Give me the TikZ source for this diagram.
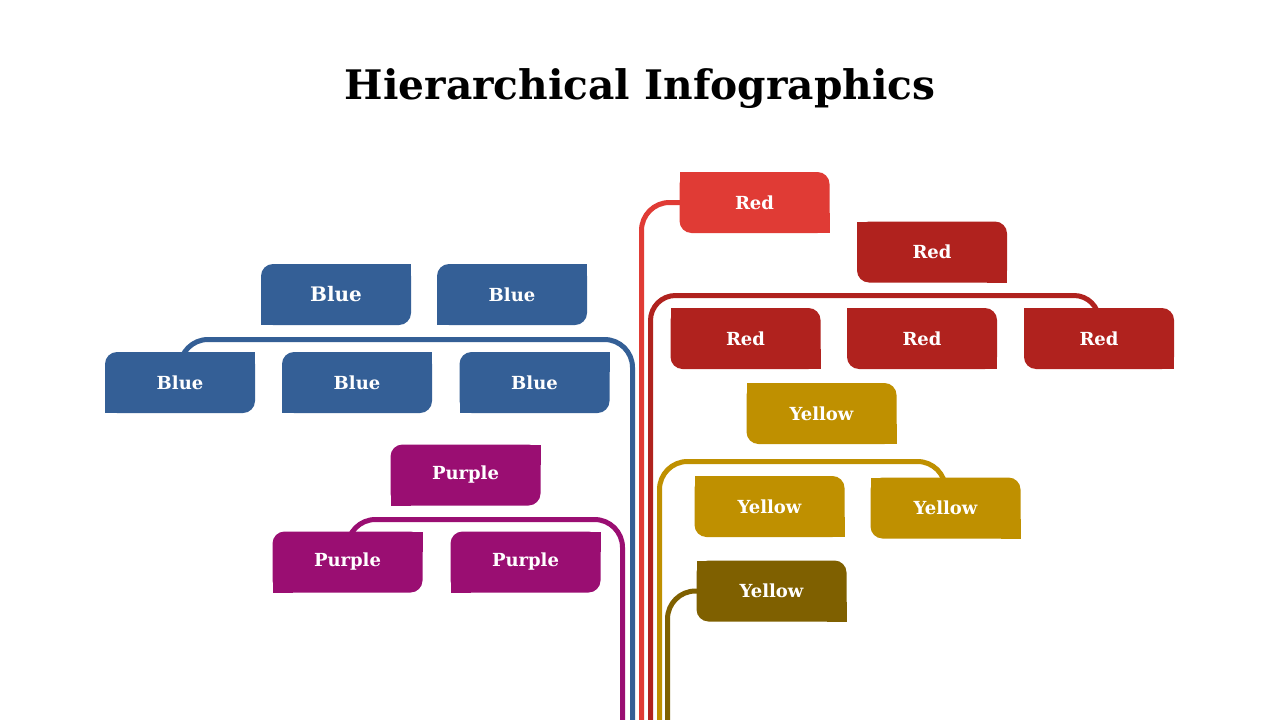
\documentclass[tikz,border=0pt]{standalone}
\usepackage{fontspec}
\setmainfont{DejaVu Serif}
\usetikzlibrary{backgrounds}
\definecolor{blueC}{RGB}{52,95,150}
\definecolor{redL}{RGB}{224,59,53}
\definecolor{redD}{RGB}{176,34,30}
\definecolor{purp}{RGB}{154,14,114}
\definecolor{yel}{RGB}{191,144,0}
\definecolor{yelD}{RGB}{127,96,0}
\tikzset{
  box/.style={rectangle, minimum width=150pt, minimum height=61pt, inner sep=0pt,
    outer sep=0pt, rounded corners=12pt, fill=#1,
    text=white, font=\bfseries\fontsize{18}{20}\selectfont},
  ln/.style={draw=#1, line width=5pt, rounded corners=28pt},
  title/.style={font=\bfseries\fontsize{40.7}{44}\selectfont, text=black}
}
\begin{document}
\begin{tikzpicture}[x=1pt,y=-1pt]
\useasboundingbox (0,0) rectangle (1280,720);
\node[title] (t) at (640,89) {Hierarchical Infographics};

% junction and end coordinates
\coordinate (bend) at (632.5,720);
\coordinate (bj) at (632.5,339.5);
\coordinate (pend) at (622.5,720);
\coordinate (pj) at (622.5,519.5);
\coordinate (rlend) at (641.5,720);
\coordinate (rlj) at (641.5,202.5);
\coordinate (rdend) at (650.5,720);
\coordinate (rdj) at (650.5,295.5);
\coordinate (yend) at (659.5,720);
\coordinate (yj) at (659.5,461.5);
\coordinate (ydend) at (667.5,720);
\coordinate (ydj) at (667.5,591);

% boxes
\node[box=blueC, font=\bfseries\fontsize{20}{22}\selectfont] (b1) at (336,294.5) {Blue};
\node[box=blueC] (b2) at (512,294.5) {Blue};
\node[box=blueC] (b3) at (180,382.5) {Blue};
\node[box=blueC] (b4) at (357,382.5) {Blue};
\node[box=blueC] (b5) at (534.5,382.5) {Blue};
\node[box=redL] (r1) at (754.5,202.5) {Red};
\node[box=redD] (r2) at (932,252) {Red};
\node[box=redD] (r3) at (745.5,338.5) {Red};
\node[box=redD] (r4) at (922,338.5) {Red};
\node[box=redD] (r5) at (1099,338.5) {Red};
\node[box=purp] (p1) at (465.5,475) {Purple};
\node[box=purp] (p2) at (347.5,562) {Purple};
\node[box=purp] (p3) at (525.5,562) {Purple};
\node[box=yel] (y1) at (821.5,413.5) {Yellow};
\node[box=yel] (y2) at (769.5,506.5) {Yellow};
\node[box=yel] (y3) at (945.5,508) {Yellow};
\node[box=yelD] (y4) at (771.5,591) {Yellow};

\begin{scope}[on background layer]
\fill[white] (0,0) rectangle (1280,720);
% connectors behind boxes
\draw[ln=blueC] (b3.center) |- (bj) -- (bend);
\draw[ln=purp] (p2.center) |- (pj) -- (pend);
\draw[ln=redL] (r1.center) -- (rlj) -- (rlend);
\draw[ln=redD, rounded corners=25pt] (r5.center) |- (rdj) -- (rdend);
\draw[ln=yel] (y3.center) |- (yj) -- (yend);
\draw[ln=yelD] (y4.center) -- (ydj) -- (ydend);
% square corners: top-right and bottom-left
\foreach \n/\c in {b1/blueC,b2/blueC,b3/blueC,b4/blueC,b5/blueC,p1/purp,p2/purp,p3/purp} {
  \fill[\c] (\n.north east) rectangle ++(-20pt,-20pt);
  \fill[\c] (\n.south west) rectangle ++(20pt,20pt);
}
% square corners: top-left and bottom-right
\foreach \n/\c in {r1/redL,r2/redD,r3/redD,r4/redD,r5/redD,y1/yel,y2/yel,y3/yel,y4/yelD} {
  \fill[\c] (\n.north west) rectangle ++(20pt,-20pt);
  \fill[\c] (\n.south east) rectangle ++(-20pt,20pt);
}
\end{scope}
\end{tikzpicture}
\end{document}
